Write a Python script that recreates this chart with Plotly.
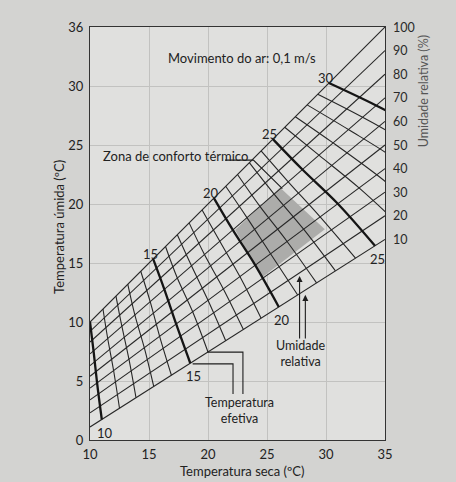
import plotly.graph_objects as go

# ---------------- data ----------------
# Relative-humidity lines (straight): wet-bulb temperature at dry bulb 10 °C and 35 °C
rh_levels = [10, 20, 30, 40, 50, 60, 70, 80, 90, 100]
rh_wb_at_10 = [1.1, 2.3, 3.4, 4.4, 5.4, 6.3, 7.3, 8.3, 9.2, 10.0]
rh_wb_at_35 = [17.0, 19.0, 21.0, 23.0, 25.0, 27.0, 29.0, 31.0, 33.0, 35.0]

# Effective-temperature lines: dry-bulb where each ET line crosses the RH 100/70/40/10 % lines
et_values = [10, 11, 12, 13, 14, 15, 16, 17, 18, 19, 20,
             21, 22, 23, 24, 25, 26, 27, 28, 29, 30]
et_x_rh100 = [10.0, 11.1, 12.2, 13.2, 14.3, 15.35, 16.4, 17.4, 18.4, 19.5, 20.5,
              21.5, 22.5, 23.5, 24.5, 25.5, 26.5, 27.4, 28.4, 29.3, 30.25]
et_x_rh70 = [10.3, 11.5, 12.7, 13.8, 15.1, 16.3, 17.4, 18.6, 19.7, 21.0, 22.1,
             23.3, 24.4, 25.6, 26.8, 28.0, 29.4, 30.6, 31.9, 33.1, 34.25]
et_x_rh40 = [10.6, 12.0, 13.3, 14.6, 15.9, 17.3, 18.7, 20.0, 21.3, 22.7, 24.0,
             25.3, 26.7, 28.1, 29.5, 31.0, 32.8, 34.3, 36.0, 37.5, 38.9]
et_x_rh10 = [11.0, 12.5, 13.9, 15.4, 16.9, 18.5, 20.0, 21.5, 23.0, 24.5, 26.0,
             27.6, 29.2, 30.8, 32.5, 34.15, 36.5, 38.4, 40.4, 42.3, 44.05]
et_bold = [10, 15, 20, 25, 30]
et_label_top = [15, 20, 25, 30]
et_label_bottom = [10, 15, 20, 25]

# Comfort zone corners (dry bulb, wet bulb)
comfort_x = [22.3, 26.1, 29.9, 24.6]
comfort_y = [17.8, 21.4, 17.85, 13.8]

x_ticks = [10, 15, 20, 25, 30, 35]
y_ticks = [0, 5, 10, 15, 20, 25, 30, 35]
y_ticktext = ["0", "5", "10", "15", "20", "25", "30", "36"]

# ---------------- helpers ----------------
def wb_on_rh(i, x):
    a, b = rh_wb_at_10[i], rh_wb_at_35[i]
    return a + (b - a) * (x - 10.0) / 25.0

i100, i70, i40, i10 = rh_levels.index(100), rh_levels.index(70), rh_levels.index(40), rh_levels.index(10)

INK = "#262626"
FONT = "Lato"

fig = go.Figure()

# comfort zone shading
fig.add_trace(go.Scatter(x=comfort_x + [comfort_x[0]], y=comfort_y + [comfort_y[0]],
                         fill="toself", fillcolor="#acacaa", mode="lines",
                         line=dict(width=0, color="#acacaa"), hoverinfo="skip"))

# RH lines
for i, rh in enumerate(rh_levels):
    fig.add_trace(go.Scatter(x=[10, 35], y=[rh_wb_at_10[i], rh_wb_at_35[i]], mode="lines",
                             line=dict(color=INK, width=1.1), hoverinfo="skip"))

# ET lines
et_ends = {}
for k, et in enumerate(et_values):
    xs = [et_x_rh100[k], et_x_rh70[k], et_x_rh40[k], et_x_rh10[k]]
    ys = [wb_on_rh(i100, xs[0]), wb_on_rh(i70, xs[1]), wb_on_rh(i40, xs[2]), wb_on_rh(i10, xs[3])]
    et_ends[et] = ((xs[0], ys[0]), (xs[3], ys[3]))
    bold = et in et_bold
    fig.add_trace(go.Scatter(x=xs, y=ys, mode="lines",
                             line=dict(color="#151515" if bold else INK,
                                       width=2.3 if bold else 1.1, shape="spline"),
                             hoverinfo="skip"))

annotations = []
tf = dict(family=FONT, size=13, color="#222")

for et in et_label_top:
    (x0, y0), _ = et_ends[et]
    annotations.append(dict(x=x0, y=y0, text=str(et), showarrow=False, xanchor="center",
                            yanchor="bottom", xshift=-3, yshift=-5, font=tf))
for et in et_label_bottom:
    _, (x1, y1) = et_ends[et]
    annotations.append(dict(x=x1, y=y1, text=str(et), showarrow=False, xanchor="center",
                            yanchor="top", xshift=3, yshift=-3, font=tf))

# right-hand RH labels
for i, rh in enumerate(rh_levels):
    annotations.append(dict(x=35, y=rh_wb_at_35[i], text=str(rh), showarrow=False,
                            xanchor="left", yanchor="middle", xshift=6,
                            font=dict(family=FONT, size=12.5, color="#2a2a2a")))

# texts
annotations += [
    dict(x=22.9, y=32.4, text="Movimento do ar: 0,1 m/s", showarrow=False, xanchor="center",
         yanchor="middle", font=tf),
    dict(x=23.6, y=24.1, text="Zona de conforto térmico", showarrow=False, xanchor="right",
         yanchor="middle", font=tf),
    dict(x=22.7, y=2.5, text="Temperatura<br>efetiva", showarrow=False, xanchor="center",
         yanchor="middle", font=dict(family=FONT, size=12.5, color="#222")),
    dict(x=27.85, y=7.35, text="Umidade<br>relativa", showarrow=False, xanchor="center",
         yanchor="middle", font=dict(family=FONT, size=12.5, color="#222")),
    dict(xref="paper", yref="paper", x=0.515, y=-0.076, text="Temperatura seca (ºC)",
         showarrow=False, xanchor="center", yanchor="middle", font=tf),
    dict(xref="paper", yref="paper", x=-0.103, y=0.515, text="Temperatura úmida (ºC)",
         showarrow=False, textangle=-90, xanchor="center", yanchor="middle", font=tf),
    dict(xref="paper", yref="paper", x=1.13, y=0.845, text="Umidade relativa (%)",
         showarrow=False, textangle=-90, xanchor="center", yanchor="middle",
         font=dict(family=FONT, size=12.5, color="#555")),
]

# leader lines
leaders = [
    ([21.44, 23.85, 26.3], [23.72, 23.72, 21.3]),
    ([22.96, 22.96, 19.95], [3.9, 7.45, 7.45]),
    ([22.12, 22.12, 18.7], [3.9, 6.45, 6.45]),
    ([27.76, 27.76], [8.6, 13.6]),
    ([28.25, 28.25], [8.6, 12.0]),
]
for lx, ly in leaders:
    fig.add_trace(go.Scatter(x=lx, y=ly, mode="lines", line=dict(color="#1e1e1e", width=1.1),
                             hoverinfo="skip"))
arrow_tips = [((26.3, 21.3), (26.46, 21.14)),
              ((19.95, 7.45), (19.75, 7.45)),
              ((18.7, 6.45), (18.5, 6.45)),
              ((27.76, 13.6), (27.76, 13.9)),
              ((28.25, 12.0), (28.25, 12.3))]
for (tx, ty), (hx, hy) in arrow_tips:
    annotations.append(dict(x=hx, y=hy, ax=tx, ay=ty, xref="x", yref="y", axref="x", ayref="y",
                            text="", showarrow=True, arrowhead=2, arrowsize=1.1,
                            arrowwidth=1.1, arrowcolor="#1e1e1e", standoff=0, startstandoff=0))

fig.update_layout(
    width=456, height=482,
    margin=dict(l=90, r=71, t=27, b=42),
    paper_bgcolor="#d3d3d1", plot_bgcolor="#e0e0de",
    showlegend=False,
    annotations=annotations,
    font=dict(family=FONT, size=13, color="#222"),
)
fig.update_xaxes(range=[10, 35], tickvals=x_ticks, showgrid=True, gridcolor="#c2c2c0",
                 gridwidth=1, zeroline=False, showline=True, linecolor="#333", linewidth=1.3,
                 mirror=True, ticks="", ticklabelstandoff=2,
                 tickfont=dict(family=FONT, size=13, color="#222"))
fig.update_yaxes(range=[0, 35], tickvals=y_ticks, ticktext=y_ticktext, showgrid=True,
                 gridcolor="#c2c2c0", gridwidth=1, zeroline=False, showline=True,
                 linecolor="#333", linewidth=1.3, mirror=True, ticks="", ticklabelstandoff=3,
                 tickfont=dict(family=FONT, size=13, color="#222"))

fig.write_html("out.html")
